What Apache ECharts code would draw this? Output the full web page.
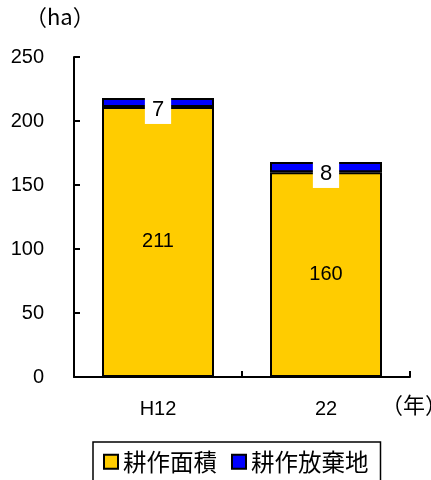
<!DOCTYPE html>
<html>
<head>
<meta charset="utf-8">
<script src="https://cdn.jsdelivr.net/npm/echarts@6/dist/echarts.min.js"></script>
<style>
  html, body { margin: 0; padding: 0; background: #fff; }
  #main { width: 431px; height: 480px; }
</style>
</head>
<body>
<div id="main"></div>
<script>
var years = ['H12', '22'];
var cultivated = [211, 160];   // 耕作面積
var abandoned = [7, 8];        // 耕作放棄地
var yTicks = { min: 0, max: 250, interval: 50 };

var font = "'Liberation Sans', 'Noto Sans CJK JP', sans-serif";
var cjk = "'Noto Sans CJK JP', sans-serif";
var chart = echarts.init(document.getElementById('main'));

var option = {
    animation: false,
    textStyle: { fontFamily: font, color: '#000' },
    title: [
        {
            text: '（ha）',
            left: 25,
            top: 6,
            padding: 0,
            textStyle: { fontSize: 22, fontWeight: 'normal', color: '#000', fontFamily: cjk }
        },
        {
            text: '（年）',
            left: 381,
            top: 394,
            padding: 0,
            textStyle: { fontSize: 22, fontWeight: 'normal', color: '#000', fontFamily: cjk }
        }
    ],
    grid: { left: 74, right: 21, top: 57, bottom: 103, outerBoundsMode: 'none' },
    legend: {
        data: ['耕作面積', '耕作放棄地'],
        left: 93,
        top: 442,
        padding: [8, 12, 8, 10],
        borderColor: '#000',
        borderWidth: 1.5,
        itemWidth: 14,
        itemHeight: 14,
        itemGap: 14,
        icon: 'rect',
        textStyle: { fontSize: 23.5, color: '#000', fontFamily: cjk }
    },
    xAxis: {
        type: 'category',
        data: years,
        axisLine: { lineStyle: { color: '#000', width: 2 } },
        axisTick: { show: true, inside: true, length: 6, lineStyle: { color: '#000', width: 2 } },
        axisLabel: { fontSize: 20, color: '#000', margin: 22 },
        splitLine: { show: false }
    },
    yAxis: {
        type: 'value',
        min: yTicks.min,
        max: yTicks.max,
        interval: yTicks.interval,
        axisLine: { show: true, lineStyle: { color: '#000', width: 2 } },
        axisTick: { show: true, inside: true, length: 6, lineStyle: { color: '#000', width: 2 } },
        axisLabel: { fontSize: 20, color: '#000', margin: 30 },
        splitLine: { show: false }
    },
    series: [
        {
            name: '耕作面積',
            type: 'bar',
            stack: 'area',
            barWidth: 112,
            data: cultivated,
            itemStyle: { color: '#FFCC00', borderColor: '#000', borderWidth: 2 },
            label: { show: true, position: 'inside', fontSize: 20, color: '#000' }
        },
        {
            name: '耕作放棄地',
            type: 'bar',
            stack: 'area',
            barWidth: 112,
            data: abandoned,
            itemStyle: { color: '#0000FF', borderColor: '#000', borderWidth: 2 },
            label: {
                show: true,
                position: 'insideTop',
                distance: 0,
                fontSize: 22,
                lineHeight: 22,
                color: '#000',
                backgroundColor: '#fff',
                padding: [1, 7, 3, 7]
            }
        }
    ]
};

chart.setOption(option);
</script>
</body>
</html>
